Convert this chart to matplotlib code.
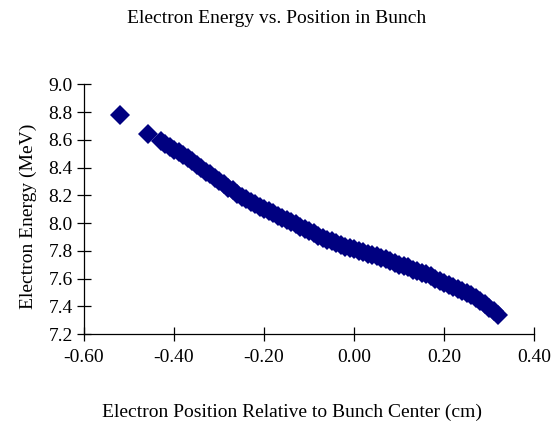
import matplotlib.pyplot as plt

# Data
# two isolated leading electrons
lead_pos = [-0.52, -0.457]
lead_energy = [8.78, 8.645]

# main bunch
bunch_pos = [-0.43, -0.42, -0.41, -0.40, -0.39, -0.38, -0.37, -0.36, -0.35, -0.34,
             -0.33, -0.32, -0.31, -0.30, -0.29, -0.28, -0.27, -0.26, -0.25, -0.24,
             -0.23, -0.22, -0.21, -0.20, -0.19, -0.18, -0.17, -0.16, -0.15, -0.14,
             -0.13, -0.12, -0.11, -0.10, -0.09, -0.08, -0.07, -0.06, -0.05, -0.04,
             -0.03, -0.02, -0.01, 0.00, 0.01, 0.02, 0.03, 0.04, 0.05, 0.06,
             0.07, 0.08, 0.09, 0.10, 0.11, 0.12, 0.13, 0.14, 0.15, 0.16,
             0.17, 0.18, 0.19, 0.20, 0.21, 0.22, 0.23, 0.24, 0.25, 0.26,
             0.27, 0.28, 0.29, 0.30, 0.31, 0.32]
bunch_energy = [8.59, 8.57, 8.55, 8.53, 8.51, 8.49, 8.47, 8.445, 8.42, 8.395,
                8.37, 8.35, 8.325, 8.30, 8.28, 8.255, 8.235, 8.21, 8.19, 8.17,
                8.15, 8.135, 8.115, 8.10, 8.085, 8.07, 8.05, 8.035, 8.02, 8.005,
                7.99, 7.97, 7.955, 7.94, 7.925, 7.91, 7.895, 7.88, 7.87, 7.855,
                7.845, 7.83, 7.82, 7.81, 7.80, 7.79, 7.78, 7.77, 7.76, 7.75,
                7.74, 7.725, 7.715, 7.70, 7.69, 7.68, 7.665, 7.655, 7.64, 7.63,
                7.615, 7.60, 7.585, 7.57, 7.555, 7.54, 7.525, 7.51, 7.495, 7.48,
                7.46, 7.44, 7.415, 7.39, 7.365, 7.34]

x_ticks = [-0.60, -0.40, -0.20, 0.00, 0.20, 0.40]
y_ticks = [7.2, 7.4, 7.6, 7.8, 8.0, 8.2, 8.4, 8.6, 8.8, 9.0]

plt.rcParams['font.family'] = ['Liberation Serif', 'DejaVu Serif']

fig = plt.figure(figsize=(5.53, 4.29), dpi=100)
ax = fig.add_axes([0.1519, 0.2214, 0.8143, 0.5821])

ax.plot(lead_pos, lead_energy, linestyle='none', marker='D', markersize=10,
        color='#000080', markeredgewidth=0)
ax.plot(bunch_pos, bunch_energy, linestyle='none', marker='D', markersize=10.5,
        color='#000080', markeredgewidth=0)

ax.set_xlim(-0.60, 0.40)
ax.set_ylim(7.2, 9.0)
ax.set_xticks(x_ticks)
ax.set_yticks(y_ticks)
ax.set_xticklabels(['%.2f' % v for v in x_ticks])
ax.set_yticklabels(['%.1f' % v for v in y_ticks])

for side in ['top', 'right']:
    ax.spines[side].set_visible(False)
for side in ['left', 'bottom']:
    ax.spines[side].set_linewidth(0.9)
    ax.spines[side].set_color('black')

ax.tick_params(direction='inout', length=10, width=0.9, labelsize=14, pad=3)
ax.tick_params(axis='x', pad=6)

ax.set_xlabel('Electron Position Relative to Bunch Center (cm)', fontsize=14)
ax.xaxis.set_label_coords(0.462, -0.28)
ax.set_ylabel('Electron Energy (MeV)', fontsize=14)
ax.yaxis.set_label_coords(-0.105, 0.47)
fig.text(0.5, 0.958, 'Electron Energy vs. Position in Bunch', ha='center', va='center',
         fontsize=14)

fig.savefig('out.png', dpi=100)
